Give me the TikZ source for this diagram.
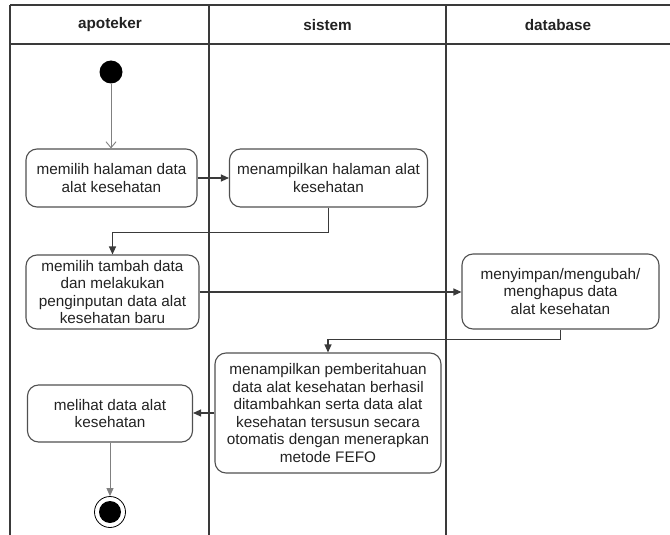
\documentclass[tikz,border=0pt]{standalone}
\usepackage{fontspec}
\setmainfont{Liberation Sans}
\usetikzlibrary{arrows.meta}
\definecolor{framegray}{HTML}{3A3A3A}
\definecolor{boxgray}{HTML}{505050}
\definecolor{inkgray}{HTML}{222222}
\tikzset{
  lane/.style={draw=framegray, line width=1.2pt},
  actbox/.style={draw=boxgray, line width=1.1pt, rounded corners=11pt, rectangle,
    align=center, inner sep=0pt, text=inkgray,
    font=\fontsize{15.3}{17.6}\selectfont},
  hdr/.style={font=\bfseries\fontsize{15.3}{17.6}\selectfont, text=inkgray},
  flow/.style={draw=framegray, line width=1.2pt, -{Triangle[length=8pt,width=7pt]}},
  thinflow/.style={draw=gray, line width=1pt, -{Triangle[length=8pt,width=7pt]}},
  initflow/.style={draw=gray, line width=0.9pt, -{Straight Barb[length=6pt,width=10pt]}},
}
\begin{document}
\begin{tikzpicture}[x=1pt, y=-1pt]
\useasboundingbox (0,0) rectangle (670,535);

% swimlane frame
\draw[lane] (10,5) -- (670,5);
\draw[lane] (10,44) -- (670,44);
\draw[lane] (10,5) -- (10,535);
\draw[lane] (209,5) -- (209,535);
\draw[lane] (446,5) -- (446,535);

\node[hdr] (h1) at (110,25) {apoteker};
\node[hdr] (h2) at (327.5,25) {sistem};
\node[hdr] (h3) at (558,25) {database};

% initial and final states
\node[circle, fill=black, minimum size=23pt, inner sep=0pt] (start) at (111,72) {};
\node[circle, draw=black, line width=0.8pt, minimum size=31pt, inner sep=0pt] (stop) at (110,512) {};
\fill[black] (stop.center) circle (11);

% activities
\node[actbox, minimum width=171pt, minimum height=58pt] (b1) at (111.5,178)
  {memilih halaman data\\alat kesehatan};
\node[actbox, minimum width=198pt, minimum height=58pt] (b2) at (328.5,178)
  {menampilkan halaman alat\\kesehatan};
\node[actbox, minimum width=173pt, minimum height=74pt] (b3) at (112.5,292)
  {memilih tambah data\\dan melakukan\\penginputan data alat\\kesehatan baru};
\node[actbox, minimum width=197pt, minimum height=75pt] (b4) at (560.5,291.5)
  {menyimpan/mengubah/\\menghapus data\\alat kesehatan};
\node[actbox, minimum width=226pt, minimum height=120pt] (b5) at (328,413)
  {menampilkan pemberitahuan\\data alat kesehatan berhasil\\ditambahkan serta data alat\\kesehatan tersusun secara\\otomatis dengan menerapkan\\metode FEFO};
\node[actbox, minimum width=165pt, minimum height=57pt] (b6) at (110,413.5)
  {melihat data alat\\kesehatan};

% control flow
\draw[initflow] (start.south) -- (start.south |- b1.north);
\draw[flow] (b1.east) -- (b2.west);
\draw[flow] (b2.south) -- ++(0,25) -| (b3.north);
\draw[flow] (b3.east) -- (b3.east -| b4.west);
\draw[flow] (b4.south) -- ++(0,10) -| (b5.north);
\draw[flow] (b5.west) -- (b5.west -| b6.east);
\draw[thinflow] (b6.south) -- (stop.north);
\end{tikzpicture}
\end{document}
